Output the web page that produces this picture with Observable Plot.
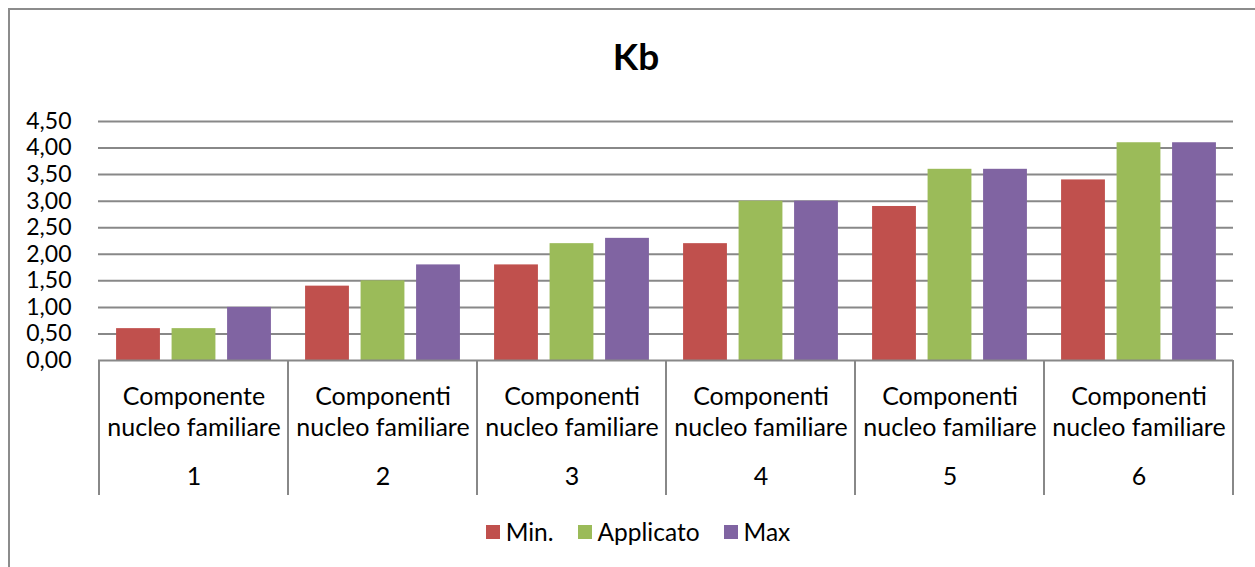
<!DOCTYPE html>
<html>
<head>
<meta charset="utf-8">
<script src="https://cdn.jsdelivr.net/npm/d3@7"></script>
<script src="https://cdn.jsdelivr.net/npm/@observablehq/plot@0.6"></script>
<style>
  html, body { margin: 0; padding: 0; background: #fff; }
  #wrap { position: relative; width: 1255px; height: 567px; overflow: hidden; font-family: Lato, "Open Sans", sans-serif; color: #000; }
  #border { position: absolute; left: 8px; top: 8px; width: 1400px; height: 700px; border: 2px solid #8c8c8c; box-sizing: border-box; }
  #title { position: absolute; left: 0; width: 1272px; top: 37px; text-align: center; font-size: 37px; font-weight: bold; line-height: 37px; }
  #chart { position: absolute; left: 0; top: 0; }
  #legend { position: absolute; left: 0; width: 1276px; top: 520px; display: flex; justify-content: center; align-items: center; font-size: 24.5px; line-height: 24px; }
  .item { display: flex; align-items: center; margin: 0 12px; }
  .sw { width: 14px; height: 14px; margin-right: 6px; }
</style>
</head>
<body>
<div id="wrap">
  <div id="border"></div>
  <div id="chart"></div>
  <div id="title"></div>
  <div id="legend"></div>
</div>
<script>
// ---- data ----
const titleText = "Kb";
const categories = ["1", "2", "3", "4", "5", "6"];
const labelLine1 = ["Componente", "Componenti", "Componenti", "Componenti", "Componenti", "Componenti"];
const labelLine2 = ["nucleo familiare", "nucleo familiare", "nucleo familiare", "nucleo familiare", "nucleo familiare", "nucleo familiare"];
const seriesNames = ["Min.", "Applicato", "Max"];
const minValues = [0.6, 1.4, 1.8, 2.2, 2.9, 3.4];
const applicatoValues = [0.6, 1.5, 2.2, 3.0, 3.6, 4.1];
const maxValues = [1.0, 1.8, 2.3, 3.0, 3.6, 4.1];
const yTicks = [0, 0.5, 1, 1.5, 2, 2.5, 3, 3.5, 4, 4.5];
const seriesColors = ["#C0504D", "#9BBB59", "#8064A2"];

// ---- build table ----
const seriesValues = [minValues, applicatoValues, maxValues];
const rows = [];
seriesNames.forEach((s, si) => {
  categories.forEach((c, ci) => rows.push({series: s, cat: c, value: seriesValues[si][ci]}));
});

const W = 1255, H = 500;
const mL = 98, mR = 22, mT = 121, mB = 140;
const step = (W - mL - mR) / categories.length;
const barW = 44, barGap = 55.5;
const inset = (step - barW) / 2;
const gridColor = "#888888";

const fmt = d => d3.format(".2f")(d).replace(".", ",");

// separator lines between category groups, drawn through the x scale
function separators(index, scales, values, dimensions) {
  const g = d3.create("svg:g");
  const x = scales.x;
  const bw = x.bandwidth ? x.bandwidth() : step;
  const top = dimensions.height - dimensions.marginBottom;
  const pos = categories.map(c => x(c));
  pos.push(x(categories[categories.length - 1]) + bw);
  for (const p of pos) {
    g.append("line")
      .attr("x1", p).attr("x2", p)
      .attr("y1", top).attr("y2", top + 135)
      .attr("stroke", gridColor).attr("stroke-width", 2);
  }
  return g.node();
}

const barMarks = seriesNames.map((s, i) =>
  Plot.barY(rows.filter(d => d.series === s), {
    x: "cat", y: "value", fill: "series",
    dx: (i - 1) * barGap, insetLeft: inset, insetRight: inset
  })
);

const catFont = 25;
const chart = Plot.plot({
  width: W, height: H,
  marginLeft: mL, marginRight: mR, marginTop: mT, marginBottom: mB,
  style: {fontFamily: "Lato, 'Open Sans', sans-serif", fontSize: "23px", color: "#000", background: "transparent", overflow: "visible"},
  x: {type: "band", domain: categories, padding: 0, axis: null},
  y: {domain: [0, 4.5], ticks: yTicks, tickFormat: fmt, label: null},
  color: {domain: seriesNames, range: seriesColors},
  marks: [
    Plot.ruleY(yTicks.slice(1), {stroke: gridColor, strokeWidth: 2, strokeOpacity: 1}),
    Plot.axisY({ticks: yTicks, tickFormat: fmt, tickSize: 0, tickPadding: 27, label: null, fontSize: 23, fill: "#000"}),
    ...barMarks,
    Plot.ruleY([0], {stroke: gridColor, strokeWidth: 2}),
    separators,
    Plot.text(categories, {x: d => d, text: (d, i) => labelLine1[i], frameAnchor: "bottom", lineAnchor: "middle", dy: 36, fontSize: catFont, fill: "#000"}),
    Plot.text(categories, {x: d => d, text: (d, i) => labelLine2[i], frameAnchor: "bottom", lineAnchor: "middle", dy: 67, fontSize: catFont, fill: "#000"}),
    Plot.text(categories, {x: d => d, text: d => d, frameAnchor: "bottom", lineAnchor: "middle", dy: 116, fontSize: catFont, fill: "#000"})
  ]
});
document.getElementById("chart").appendChild(chart);
document.getElementById("title").textContent = titleText;

const legend = document.getElementById("legend");
seriesNames.forEach((s, i) => {
  const item = document.createElement("div");
  item.className = "item";
  const sw = document.createElement("div");
  sw.className = "sw";
  sw.style.background = seriesColors[i];
  const t = document.createElement("span");
  t.textContent = s;
  item.appendChild(sw);
  item.appendChild(t);
  legend.appendChild(item);
});
</script>
</body>
</html>
